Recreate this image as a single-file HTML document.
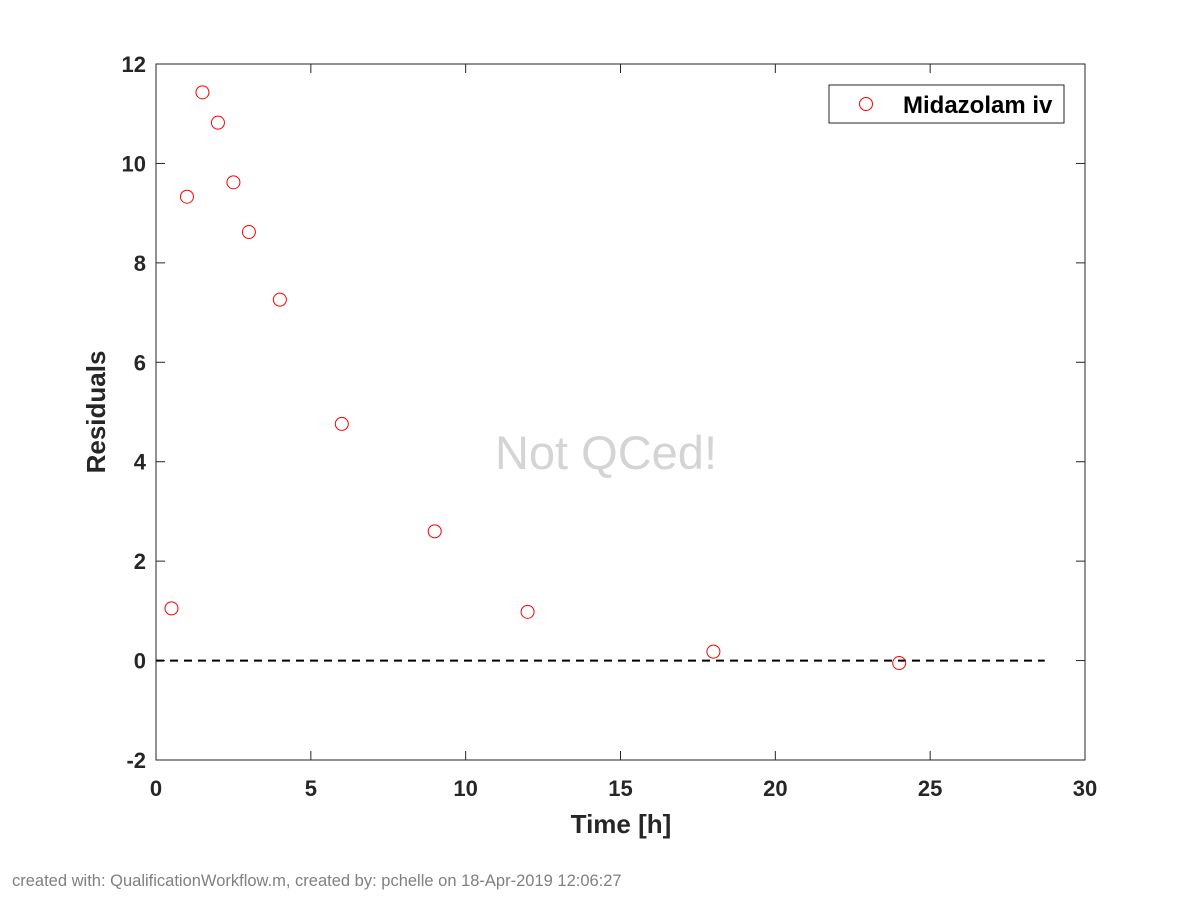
<!DOCTYPE html>
<html><head><meta charset="utf-8"><style>
body{margin:0;background:#fff;}
svg text{font-family:"Liberation Sans",Arial,sans-serif;}
</style></head><body>
<svg id="chart" width="1200" height="900" xmlns="http://www.w3.org/2000/svg">
<rect width="1200" height="900" fill="#fff"/>
<g id="plot"></g>
</svg>
<script>
const xTicks=[0,5,10,15,20,25,30];
const yTicks=[-2,0,2,4,6,8,10,12];
const times=[0.5,1,1.5,2,2.5,3,4,6,9,12,18,24];
const residuals=[1.05,9.33,11.43,10.82,9.62,8.62,7.26,4.76,2.6,0.98,0.18,-0.05];
const refLine=[0,28.7];

const X0=156,X1=1085,Y0=760,Y1=64;
const sx=v=>X0+(v-0)/(30-0)*(X1-X0);
const sy=v=>Y0-(v+2)/(14)*(Y0-Y1);
const NS="http://www.w3.org/2000/svg";
const g=document.getElementById('plot');
function el(t,a,txt){const e=document.createElementNS(NS,t);for(const k in a)e.setAttribute(k,a[k]);if(txt!==undefined)e.textContent=txt;g.appendChild(e);return e;}

let box=el('rect',{x:X0,y:Y1,width:X1-X0,height:Y0-Y1,fill:'none',stroke:'#262626','stroke-width':1});



xTicks.forEach(v=>{
  const x=sx(v);
  el('line',{x1:x,x2:x,y1:Y0,y2:Y0-9,stroke:'#262626'});
  el('line',{x1:x,x2:x,y1:Y1,y2:Y1+9,stroke:'#262626'});
  const t=el('text',{x:x,y:Y0+36,'text-anchor':'middle','font-size':22,'font-weight':'bold',fill:'#262626'},String(v));
  
  
});
yTicks.forEach(v=>{
  const y=sy(v);
  el('line',{x1:X0,x2:X0+9,y1:y,y2:y,stroke:'#262626'});
  el('line',{x1:X1,x2:X1-9,y1:y,y2:y,stroke:'#262626'});
  const t=el('text',{x:X0-10,y:y+8,'text-anchor':'end','font-size':22,'font-weight':'bold',fill:'#262626'},String(v));
  
  
});

const wm=el('text',{x:606,y:469,'text-anchor':'middle','font-size':47,fill:'#d4d4d4'},'Not QCed!');



const ref=el('line',{x1:sx(refLine[0]),x2:sx(refLine[1]),y1:sy(0),y2:sy(0),stroke:'#000','stroke-width':2,'stroke-dasharray':'8,6'});



times.forEach((t,i)=>{
  const c=el('circle',{cx:sx(t),cy:sy(residuals[i]),r:6.5,fill:'none',stroke:'#ff0000','stroke-width':1});
  
  
});

const xl=el('text',{x:621,y:833,'text-anchor':'middle','font-size':26,'font-weight':'bold',fill:'#262626'},'Time [h]');


const yl=el('text',{x:0,y:0,'text-anchor':'middle','font-size':26,'font-weight':'bold',fill:'#262626',transform:'translate(105,412) rotate(-90)'},'Residuals');



const lg=el('rect',{x:829,y:85,width:235,height:38,fill:'#fff',stroke:'#262626'});


const lm=el('circle',{cx:866,cy:104,r:6.5,fill:'none',stroke:'#ff0000'});


const lt=el('text',{x:903,y:113,'font-size':24,'font-weight':'bold',fill:'#000'},'Midazolam iv');



const ft=el('text',{x:12,y:886,'font-size':16.5,fill:'#808080'},'created with: QualificationWorkflow.m, created by: pchelle on 18-Apr-2019 12:06:27');


</script>
</body></html>
